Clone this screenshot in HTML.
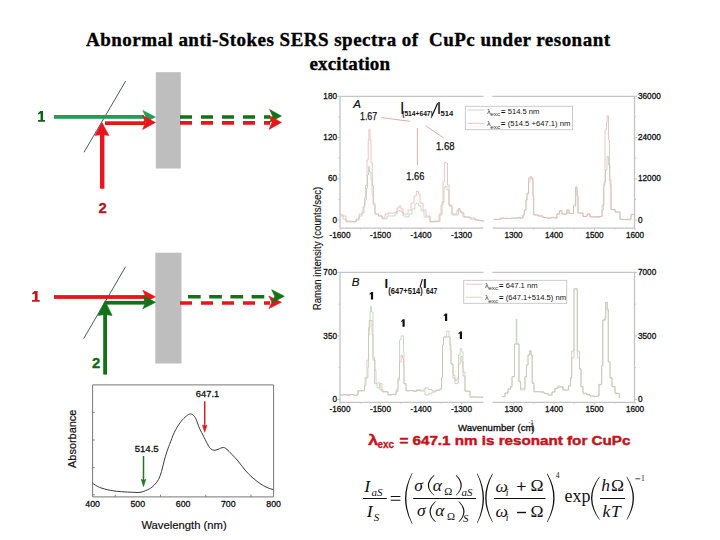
<!DOCTYPE html>
<html><head><meta charset="utf-8"><style>
html,body{margin:0;padding:0;background:#fff;}
svg{display:block;}
</style></head><body>
<svg width="720" height="540" viewBox="0 0 720 540">
<text x="86" y="45.8" font-family="Liberation Serif" font-size="19" font-weight="bold" fill="#000" text-anchor="start" textLength="524" lengthAdjust="spacing" stroke="#000" stroke-width="0.35">Abnormal anti-Stokes SERS spectra of&#160; CuPc under resonant</text>
<text x="309.5" y="69.7" font-family="Liberation Serif" font-size="19" font-weight="bold" fill="#000" text-anchor="start" textLength="80.6" lengthAdjust="spacing" stroke="#000" stroke-width="0.35">excitation</text>
<rect x="155.8" y="72.2" width="25" height="96.3" fill="#bebebe"/>
<rect x="155.3" y="252.7" width="26.2" height="110.8" fill="#bebebe"/>
<line x1="125.7" y1="81" x2="84" y2="152.3" stroke="#3a4652" stroke-width="0.9"/>
<rect x="54" y="115" width="90" height="3.8" fill="#1f9e55"/>
<path d="M155.4 116.9 L142.8 110.4 L145.8 116.9 L142.8 123.4 Z" fill="#1f9e55" stroke="#1f9e55" stroke-width="0.6" stroke-linejoin="round"/>
<rect x="105" y="121.3" width="40" height="3.7" fill="#e8151b"/>
<path d="M155.4 122.5 L142.6 115.5 L145.6 122.5 L142.6 129.5 Z" fill="#e8151b" stroke="#e8151b" stroke-width="0.6" stroke-linejoin="round"/>
<rect x="100" y="132" width="4.4" height="56.7" fill="#e8151b"/>
<path d="M101.9 122.4 L94.9 135.4 L101.9 134.6 L108.9 135.4 Z" fill="#e8151b" stroke="#e8151b" stroke-width="0.6" stroke-linejoin="round"/>
<line x1="180" y1="116.9" x2="270" y2="116.9" stroke="#137216" stroke-width="3.5" stroke-dasharray="12 9"/>
<line x1="180" y1="122.9" x2="270" y2="122.9" stroke="#e8151b" stroke-width="3.6" stroke-dasharray="12 9"/>
<path d="M281.4 116.0 L269.6 109.5 L272.6 116.0 L269.6 122.5 Z" fill="#137216" stroke="#137216" stroke-width="0.6" stroke-linejoin="round"/>
<path d="M281.4 122.4 L269.0 115.4 L272.0 122.4 L269.0 129.4 Z" fill="#e8151b" stroke="#e8151b" stroke-width="0.6" stroke-linejoin="round"/>
<path d="M40.30 111.00 L43.10 111.00 L43.10 120.05 L45.00 120.05 L45.00 121.85 L38.00 121.85 L38.00 120.05 L40.55 120.05 L40.55 113.50 L38.65 114.55 L37.90 113.25 Z" fill="#135f20"/>
<text x="102.5" y="212.6" font-family="Liberation Sans" font-size="14.8" font-weight="bold" fill="#b51a26" text-anchor="middle" stroke="#b51a26" stroke-width="0.35">2</text>
<line x1="125.6" y1="266.7" x2="83.7" y2="338.6" stroke="#3a4652" stroke-width="0.9"/>
<rect x="54" y="295.1" width="92" height="3.8" fill="#e8151b"/>
<path d="M155.4 296.8 L142.8 290.2 L145.8 296.8 L142.8 303.40000000000003 Z" fill="#e8151b" stroke="#e8151b" stroke-width="0.6" stroke-linejoin="round"/>
<rect x="105.6" y="300.9" width="40" height="3.7" fill="#137216"/>
<path d="M155.6 302.3 L142.8 295.8 L145.8 302.3 L142.8 308.8 Z" fill="#137216" stroke="#137216" stroke-width="0.6" stroke-linejoin="round"/>
<rect x="103.2" y="312" width="3.8" height="62.6" fill="#137216"/>
<path d="M105.0 300.9 L97.9 315.4 L105.0 314.59999999999997 L112.1 315.4 Z" fill="#137216" stroke="#137216" stroke-width="0.6" stroke-linejoin="round"/>
<line x1="188" y1="296.7" x2="270" y2="296.7" stroke="#137216" stroke-width="3.6" stroke-dasharray="12.7 8.5"/>
<line x1="180" y1="303" x2="270" y2="303" stroke="#e8151b" stroke-width="3.6" stroke-dasharray="12 9"/>
<path d="M281.4 302.3 L268.9 296.0 L271.9 302.3 L268.9 308.6 Z" fill="#e8151b" stroke="#e8151b" stroke-width="0.6" stroke-linejoin="round"/>
<path d="M284.4 296.3 L271.7 289.7 L274.7 296.3 L271.7 302.90000000000003 Z" fill="#137216" stroke="#137216" stroke-width="0.6" stroke-linejoin="round"/>
<path d="M34.54 291.00 L37.62 291.00 L37.62 300.05 L39.71 300.05 L39.71 301.85 L32.01 301.85 L32.01 300.05 L34.81 300.05 L34.81 293.50 L32.73 294.55 L31.90 293.25 Z" fill="#c8161e"/>
<text x="96.0" y="367.8" font-family="Liberation Sans" font-size="14.8" font-weight="bold" fill="#0f6a16" text-anchor="middle" stroke="#0f6a16" stroke-width="0.35">2</text>
<path d="M340 228.2 V96.3 H483.5 M492.3 96.3 H634.5 V228.2 H492.5 M483.5 228.2 H340" fill="none" stroke="#c4c4c4" stroke-width="1.3"/>
<path d="M337.5 96.3 H340 M634.5 96.3 H637 M337.5 137.5 H340 M634.5 137.5 H637 M337.5 178.8 H340 M634.5 178.8 H637 M337.5 220.0 H340 M634.5 220.0 H637 M338.5 116.9 H340 M634.5 116.9 H636 M338.5 158.1 H340 M634.5 158.1 H636 M338.5 199.4 H340 M634.5 199.4 H636 M340.0 228.2 V230.2 M360.2 228.2 V229.5 M380.5 228.2 V230.2 M400.8 228.2 V229.5 M421.0 228.2 V230.2 M441.2 228.2 V229.5 M461.5 228.2 V230.2 M513.5 228.2 V230.2 M533.8 228.2 V229.5 M554.0 228.2 V230.2 M574.2 228.2 V229.5 M594.5 228.2 V230.2 M614.8 228.2 V229.5 M635.0 228.2 V230.2" stroke="#c4c4c4" stroke-width="1" fill="none"/>
<text x="337" y="99.0" font-family="Liberation Sans" font-size="8.2" font-weight="normal" fill="#111" text-anchor="end" stroke="#111" stroke-width="0.3">180</text>
<text x="337" y="140.23" font-family="Liberation Sans" font-size="8.2" font-weight="normal" fill="#111" text-anchor="end" stroke="#111" stroke-width="0.3">120</text>
<text x="337" y="181.45999999999998" font-family="Liberation Sans" font-size="8.2" font-weight="normal" fill="#111" text-anchor="end" stroke="#111" stroke-width="0.3">60</text>
<text x="337" y="222.69" font-family="Liberation Sans" font-size="8.2" font-weight="normal" fill="#111" text-anchor="end" stroke="#111" stroke-width="0.3">0</text>
<text x="638" y="99.0" font-family="Liberation Sans" font-size="8.2" font-weight="normal" fill="#111" text-anchor="start" stroke="#111" stroke-width="0.3">36000</text>
<text x="638" y="140.23" font-family="Liberation Sans" font-size="8.2" font-weight="normal" fill="#111" text-anchor="start" stroke="#111" stroke-width="0.3">24000</text>
<text x="638" y="181.45999999999998" font-family="Liberation Sans" font-size="8.2" font-weight="normal" fill="#111" text-anchor="start" stroke="#111" stroke-width="0.3">12000</text>
<text x="638" y="222.69" font-family="Liberation Sans" font-size="8.2" font-weight="normal" fill="#111" text-anchor="start" stroke="#111" stroke-width="0.3">0</text>
<text x="340.0" y="237.6" font-family="Liberation Sans" font-size="8.2" font-weight="normal" fill="#111" text-anchor="middle" stroke="#111" stroke-width="0.3">-1600</text>
<text x="380.5" y="237.6" font-family="Liberation Sans" font-size="8.2" font-weight="normal" fill="#111" text-anchor="middle" stroke="#111" stroke-width="0.3">-1500</text>
<text x="421.0" y="237.6" font-family="Liberation Sans" font-size="8.2" font-weight="normal" fill="#111" text-anchor="middle" stroke="#111" stroke-width="0.3">-1400</text>
<text x="461.5" y="237.6" font-family="Liberation Sans" font-size="8.2" font-weight="normal" fill="#111" text-anchor="middle" stroke="#111" stroke-width="0.3">-1300</text>
<text x="513.5" y="237.6" font-family="Liberation Sans" font-size="8.2" font-weight="normal" fill="#111" text-anchor="middle" stroke="#111" stroke-width="0.3">1300</text>
<text x="554.0" y="237.6" font-family="Liberation Sans" font-size="8.2" font-weight="normal" fill="#111" text-anchor="middle" stroke="#111" stroke-width="0.3">1400</text>
<text x="594.5" y="237.6" font-family="Liberation Sans" font-size="8.2" font-weight="normal" fill="#111" text-anchor="middle" stroke="#111" stroke-width="0.3">1500</text>
<text x="635.0" y="237.6" font-family="Liberation Sans" font-size="8.2" font-weight="normal" fill="#111" text-anchor="middle" stroke="#111" stroke-width="0.3">1600</text>
<path d="M340.0 216.0 H343.0 V219.0 H346.0 V222.0 H352.0 V222.0 H356.0 V220.0 H359.0 V216.0 H362.0 V213.0 H364.0 V206.0 H365.0 V200.0 H366.5 V188.0 H367.5 V175.0 H368.5 V166.3 H369.5 V172.0 H371.0 V180.0 H372.0 V195.0 H373.0 V205.0 H375.0 V214.0 H378.5 V216.2 H382.0 V219.0 H387.0 V216.0 H392.0 V216.0 H395.0 V214.0 H397.0 V211.0 H399.0 V210.7 H401.0 V212.0 H403.0 V216.0 H406.0 V217.0 H409.0 V214.0 H412.0 V209.0 H415.0 V204.0 H416.3 V203.3 H418.5 V206.0 H421.0 V211.0 H424.0 V217.0 H430.0 V222.0 H433.5 V221.8 H437.0 V221.5 H440.0 V215.0 H442.0 V202.0 H444.0 V188.0 H445.2 V186.3 H447.0 V190.0 H449.0 V206.0 H452.0 V215.0 H455.0 V215.0 H458.5 V210.0 H461.0 V213.0 H464.0 V217.0 H470.0 V219.0 H475.0 V220.0 H479.0 V220.8 H483.0 V222.0" fill="none" stroke="#b0d2b0" stroke-width="0.75"/>
<path d="M340.0 214.7 H343.0 V216.0 H346.0 V221.0 H352.0 V221.5 H356.0 V219.0 H359.0 V214.0 H362.0 V211.0 H363.0 V207.0 H364.5 V198.0 H365.6 V185.6 H367.0 V160.0 H368.2 V140.0 H368.9 V129.7 H370.0 V140.0 H371.0 V163.0 H372.3 V185.6 H373.5 V203.0 H375.0 V214.0 H378.5 V215.7 H382.0 V218.0 H385.0 V214.0 H388.5 V213.0 H392.0 V213.0 H395.0 V212.0 H397.0 V208.0 H399.0 V206.0 H401.0 V209.0 H403.0 V214.0 H406.0 V214.0 H408.0 V210.0 H411.0 V203.0 H414.0 V196.0 H416.3 V191.5 H418.5 V194.0 H420.0 V203.0 H423.0 V210.0 H426.0 V216.0 H430.0 V221.5 H433.5 V221.1 H437.0 V221.0 H439.0 V214.0 H441.0 V205.0 H443.0 V182.0 H444.3 V162.6 H446.2 V163.0 H447.5 V185.0 H449.0 V205.0 H452.0 V214.0 H455.0 V214.0 H457.0 V210.0 H458.5 V208.5 H460.0 V212.0 H463.0 V217.0 H466.5 V217.1 H470.0 V218.0 H475.0 V220.0 H479.0 V220.5 H483.0 V222.0" fill="none" stroke="#eab0b0" stroke-width="0.75"/>
<path d="M493.7 219.3 H500.0 V219.3 H500.5 V218.1 H503.9 V218.2 H507.3 V218.4 H510.8 V218.4 H514.2 V218.6 H517.6 V218.3 H521.0 V218.0 H523.0 V215.0 H524.4 V210.0 H526.0 V200.0 H527.0 V194.0 H528.5 V182.0 H530.0 V178.0 H532.0 V180.0 H533.0 V197.0 H533.7 V215.0 H538.0 V216.0 H543.0 V217.5 H547.0 V218.2 H551.0 V217.3 H555.0 V218.0 H557.0 V214.0 H559.6 V210.7 H562.0 V214.0 H564.0 V214.0 H567.0 V210.0 H569.0 V213.5 H571.0 V213.3 H573.5 V206.0 H575.7 V188.0 H577.0 V196.0 H578.0 V213.0 H583.0 V216.5 H587.0 V214.0 H590.0 V216.9 H593.3 V216.7 H596.7 V217.2 H600.0 V216.5 H602.0 V205.0 H604.0 V182.0 H605.5 V170.0 H607.0 V156.6 H608.5 V165.0 H610.0 V185.0 H611.0 V209.6 H615.0 V212.0 H620.0 V219.3 H623.3 V219.5 H626.7 V219.8 H630.0 V219.3 H631.0 V214.5 H635.0 V214.5" fill="none" stroke="#b0d2b0" stroke-width="0.75"/>
<path d="M493.7 219.3 H500.0 V219.3 H500.5 V218.1 H503.9 V218.4 H507.3 V218.5 H510.8 V218.0 H514.2 V217.7 H517.6 V217.4 H521.0 V218.0 H523.0 V215.0 H524.4 V210.0 H526.0 V200.0 H527.0 V193.0 H528.5 V178.0 H530.0 V176.7 H532.0 V178.0 H533.0 V196.0 H533.7 V215.0 H538.0 V216.0 H543.0 V217.5 H547.0 V217.9 H551.0 V217.8 H555.0 V218.0 H557.0 V214.0 H559.6 V210.7 H562.0 V214.0 H564.0 V214.0 H567.0 V210.0 H569.0 V213.5 H571.0 V213.3 H573.5 V205.0 H575.7 V186.7 H577.0 V195.0 H578.0 V213.0 H583.0 V216.5 H587.0 V214.0 H590.0 V216.9 H593.3 V217.1 H596.7 V216.5 H600.0 V216.5 H602.0 V210.0 H603.5 V185.0 H605.0 V130.0 H606.5 V122.0 H607.2 V115.7 H608.5 V140.0 H609.5 V180.0 H611.0 V209.6 H615.0 V212.0 H620.0 V219.3 H623.3 V219.6 H626.7 V219.0 H630.0 V219.3 H631.0 V214.5 H635.0 V214.5" fill="none" stroke="#eab0b0" stroke-width="0.75"/>
<text x="353.3" y="107.8" font-family="Liberation Sans" font-size="11.5" font-weight="normal" fill="#111" text-anchor="start" font-style="italic" stroke="#111" stroke-width="0.2">A</text>
<text x="360" y="119.8" font-family="Liberation Sans" font-size="10.2" font-weight="normal" fill="#111" text-anchor="start" stroke="#111" stroke-width="0.25" textLength="17.2" lengthAdjust="spacingAndGlyphs">1.67</text>
<text x="436" y="150.3" font-family="Liberation Sans" font-size="10.2" font-weight="normal" fill="#111" text-anchor="start" stroke="#111" stroke-width="0.25" textLength="18.5" lengthAdjust="spacingAndGlyphs">1.68</text>
<text x="406.3" y="179.8" font-family="Liberation Sans" font-size="10.2" font-weight="normal" fill="#111" text-anchor="start" stroke="#111" stroke-width="0.25" textLength="18" lengthAdjust="spacingAndGlyphs">1.66</text>
<path d="M381 117.6 L410 121.3 M417.4 128 V165.7 M425.6 125.7 L444 138.3" stroke="#d49a9a" stroke-width="0.8" fill="none"/>
<text x="399.9" y="113.9" font-family="Liberation Sans" font-size="16" font-weight="normal" fill="#111" text-anchor="start" >I</text>
<text x="402.2" y="116.1" font-family="Liberation Sans" font-size="8" font-weight="bold" fill="#111" text-anchor="start" textLength="30.6" lengthAdjust="spacingAndGlyphs">(514+647)</text>
<path d="M432 116.1 L437.6 103.3" stroke="#111" stroke-width="1.2"/>
<text x="436.8" y="113.9" font-family="Liberation Sans" font-size="16" font-weight="normal" fill="#111" text-anchor="start" >I</text>
<text x="440.6" y="115.7" font-family="Liberation Sans" font-size="7.5" font-weight="bold" fill="#111" text-anchor="start" textLength="12.7" lengthAdjust="spacingAndGlyphs">514</text>
<rect x="465.3" y="106.3" width="107.2" height="23.4" fill="#fff" stroke="#c4c4c4" stroke-width="0.9"/>
<path d="M467.5 110 H484.7" stroke="#b0d2b0" stroke-width="0.75"/>
<path d="M467.5 123.3 H484.7" stroke="#eab0b0" stroke-width="0.75"/>
<text x="486.9" y="114.4" font-family="Liberation Sans" font-size="7.4" font-weight="normal" fill="#333" text-anchor="start" >λ</text>
<text x="490.29999999999995" y="115.9" font-family="Liberation Sans" font-size="6.2" font-weight="normal" fill="#333" text-anchor="start" textLength="10" lengthAdjust="spacingAndGlyphs">exc</text>
<text x="501.09999999999997" y="114.4" font-family="Liberation Sans" font-size="7.6" font-weight="bold" fill="#111" text-anchor="start" >=</text>
<text x="507.7" y="114.4" font-family="Liberation Sans" font-size="7.7" font-weight="normal" fill="#111" text-anchor="start" textLength="31.7" lengthAdjust="spacingAndGlyphs">514.5 nm</text>
<text x="486.9" y="125.5" font-family="Liberation Sans" font-size="7.4" font-weight="normal" fill="#333" text-anchor="start" >λ</text>
<text x="490.29999999999995" y="129.0" font-family="Liberation Sans" font-size="6.2" font-weight="normal" fill="#333" text-anchor="start" textLength="10" lengthAdjust="spacingAndGlyphs">exc</text>
<text x="501.09999999999997" y="125.5" font-family="Liberation Sans" font-size="7.6" font-weight="bold" fill="#111" text-anchor="start" >=</text>
<text x="507.7" y="125.5" font-family="Liberation Sans" font-size="7.7" font-weight="normal" fill="#111" text-anchor="start" textLength="62.7" lengthAdjust="spacingAndGlyphs">(514.5 +647.1) nm</text>
<path d="M340 402.4 V272.4 H483.5 M492.3 272.4 H634.5 V402.4 H492.5 M483.5 402.4 H340" fill="none" stroke="#c4c4c4" stroke-width="1.3"/>
<path d="M337.5 272.4 H340 M634.5 272.4 H637 M337.5 335.9 H340 M634.5 335.9 H637 M337.5 399.5 H340 M634.5 399.5 H637 M338.5 304.2 H340 M634.5 304.2 H636 M338.5 367.7 H340 M634.5 367.7 H636 M340.0 402.4 V404.4 M360.2 402.4 V403.7 M380.5 402.4 V404.4 M400.8 402.4 V403.7 M421.0 402.4 V404.4 M441.2 402.4 V403.7 M461.5 402.4 V404.4 M513.5 402.4 V404.4 M533.8 402.4 V403.7 M554.0 402.4 V404.4 M574.2 402.4 V403.7 M594.5 402.4 V404.4 M614.8 402.4 V403.7 M635.0 402.4 V404.4" stroke="#c4c4c4" stroke-width="1" fill="none"/>
<text x="337" y="275.09999999999997" font-family="Liberation Sans" font-size="8.2" font-weight="normal" fill="#111" text-anchor="end" stroke="#111" stroke-width="0.3">700</text>
<text x="337" y="338.65" font-family="Liberation Sans" font-size="8.2" font-weight="normal" fill="#111" text-anchor="end" stroke="#111" stroke-width="0.3">350</text>
<text x="337" y="402.2" font-family="Liberation Sans" font-size="8.2" font-weight="normal" fill="#111" text-anchor="end" stroke="#111" stroke-width="0.3">0</text>
<text x="638" y="275.09999999999997" font-family="Liberation Sans" font-size="8.2" font-weight="normal" fill="#111" text-anchor="start" stroke="#111" stroke-width="0.3">7000</text>
<text x="638" y="338.65" font-family="Liberation Sans" font-size="8.2" font-weight="normal" fill="#111" text-anchor="start" stroke="#111" stroke-width="0.3">3500</text>
<text x="638" y="402.2" font-family="Liberation Sans" font-size="8.2" font-weight="normal" fill="#111" text-anchor="start" stroke="#111" stroke-width="0.3">0</text>
<text x="340.0" y="411.8" font-family="Liberation Sans" font-size="8.2" font-weight="normal" fill="#111" text-anchor="middle" stroke="#111" stroke-width="0.3">-1600</text>
<text x="380.5" y="411.8" font-family="Liberation Sans" font-size="8.2" font-weight="normal" fill="#111" text-anchor="middle" stroke="#111" stroke-width="0.3">-1500</text>
<text x="421.0" y="411.8" font-family="Liberation Sans" font-size="8.2" font-weight="normal" fill="#111" text-anchor="middle" stroke="#111" stroke-width="0.3">-1400</text>
<text x="461.5" y="411.8" font-family="Liberation Sans" font-size="8.2" font-weight="normal" fill="#111" text-anchor="middle" stroke="#111" stroke-width="0.3">-1300</text>
<text x="513.5" y="411.8" font-family="Liberation Sans" font-size="8.2" font-weight="normal" fill="#111" text-anchor="middle" stroke="#111" stroke-width="0.3">1300</text>
<text x="554.0" y="411.8" font-family="Liberation Sans" font-size="8.2" font-weight="normal" fill="#111" text-anchor="middle" stroke="#111" stroke-width="0.3">1400</text>
<text x="594.5" y="411.8" font-family="Liberation Sans" font-size="8.2" font-weight="normal" fill="#111" text-anchor="middle" stroke="#111" stroke-width="0.3">1500</text>
<text x="635.0" y="411.8" font-family="Liberation Sans" font-size="8.2" font-weight="normal" fill="#111" text-anchor="middle" stroke="#111" stroke-width="0.3">1600</text>
<path d="M340.0 394.9 H343.4 V394.6 H346.8 V395.5 H350.2 V394.5 H353.6 V395.1 H357.0 V394.9 H358.0 V390.8 H363.5 V390.8 H364.5 V385.7 H365.0 V377.6 H367.0 V360.0 H368.5 V335.0 H369.2 V320.5 H371.0 V320.5 H372.0 V335.0 H373.0 V360.0 H375.0 V370.4 H376.0 V383.0 H380.0 V389.8 H383.0 V391.8 H388.0 V394.9 H391.5 V394.4 H395.0 V394.9 H396.0 V391.8 H398.0 V380.0 H399.5 V362.0 H401.1 V355.2 H402.5 V358.0 H403.5 V366.0 H404.0 V383.7 H406.0 V390.8 H409.5 V390.5 H413.0 V391.5 H416.5 V390.6 H420.0 V391.0 H425.0 V395.0 H428.5 V393.7 H432.0 V392.0 H436.0 V390.5 H440.0 V389.0 H441.5 V378.0 H442.5 V345.0 H443.5 V337.0 H449.0 V337.0 H450.0 V350.0 H451.0 V364.0 H453.0 V378.0 H455.0 V383.7 H457.0 V383.0 H458.5 V364.0 H460.2 V356.4 H461.8 V362.0 H463.0 V376.0 H465.0 V391.0 H470.0 V397.0 H473.2 V397.0 H476.5 V397.1 H479.8 V396.9 H483.0 V397.3" fill="none" stroke="#eab0b0" stroke-width="0.75"/>
<path d="M340.0 394.9 H343.4 V394.9 H346.8 V394.7 H350.2 V394.5 H353.6 V395.3 H357.0 V394.9 H358.0 V390.8 H363.5 V390.8 H364.5 V385.7 H366.0 V378.0 H368.0 V367.4 H368.5 V327.7 H370.0 V312.0 H370.6 V306.3 H371.5 V312.0 H373.0 V357.0 H374.5 V383.7 H377.0 V388.0 H379.8 V383.7 H382.0 V391.8 H388.0 V394.9 H391.5 V394.3 H395.0 V394.9 H396.0 V389.8 H398.0 V377.6 H399.5 V339.9 H401.1 V335.8 H403.5 V351.0 H404.0 V383.7 H406.0 V390.8 H409.5 V390.6 H413.0 V390.9 H416.5 V389.7 H420.0 V390.0 H425.0 V388.0 H428.5 V389.6 H432.0 V391.0 H436.0 V390.1 H440.0 V389.0 H441.5 V377.8 H442.5 V345.0 H443.5 V337.0 H446.6 V331.1 H449.0 V337.0 H450.0 V345.0 H451.0 V364.2 H453.0 V375.0 H455.0 V380.7 H457.0 V378.0 H458.5 V355.0 H460.2 V348.6 H461.8 V352.0 H463.0 V372.0 H465.0 V391.4 H470.0 V397.3 H473.2 V396.7 H476.5 V397.2 H479.8 V397.5 H483.0 V397.3" fill="none" stroke="#b0d2b0" stroke-width="0.75"/>
<path d="M502.2 396.7 H505.0 V393.0 H508.0 V389.0 H510.5 V386.7 H512.0 V376.7 H514.5 V344.0 H516.3 V344.0 H519.0 V344.0 H519.0 V381.7 H520.5 V390.0 H524.0 V390.0 H525.0 V376.7 H526.5 V365.0 H528.0 V355.0 H529.7 V350.8 H531.0 V355.0 H532.2 V383.3 H534.0 V391.7 H540.0 V392.0 H544.0 V393.6 H548.0 V395.0 H552.0 V392.0 H555.0 V388.3 H558.0 V387.0 H560.6 V387.0 H563.0 V390.0 H567.0 V390.0 H568.5 V386.0 H570.6 V378.0 H571.7 V357.8 H573.9 V357.8 H574.0 V288.9 H577.2 V288.9 H577.3 V357.8 H578.3 V357.8 H579.5 V368.9 H581.0 V386.7 H583.0 V393.3 H586.5 V394.6 H590.0 V396.0 H594.0 V396.1 H598.0 V396.0 H599.0 V384.4 H601.7 V365.5 H602.8 V320.0 H605.7 V302.2 H607.2 V310.0 H608.3 V362.0 H610.0 V377.8 H612.0 V386.7 H615.0 V393.3 H619.4 V397.8" fill="none" stroke="#eab0b0" stroke-width="0.75"/>
<path d="M502.2 396.7 H505.0 V393.0 H508.0 V389.0 H510.5 V386.7 H512.0 V376.7 H514.5 V344.0 H515.8 V344.0 H516.3 V319.2 H516.8 V344.0 H519.0 V344.0 H519.0 V381.7 H520.5 V388.3 H524.0 V388.3 H525.0 V376.7 H526.5 V365.0 H528.0 V355.0 H529.7 V350.8 H531.0 V355.0 H532.2 V383.3 H534.0 V391.7 H540.0 V392.0 H544.0 V393.4 H548.0 V395.0 H552.0 V392.0 H555.0 V388.3 H558.0 V386.0 H560.6 V386.7 H563.0 V390.0 H567.0 V390.0 H568.5 V386.0 H570.6 V377.8 H571.7 V351.0 H573.9 V351.0 H574.0 V288.9 H577.2 V288.9 H577.3 V351.0 H578.3 V351.0 H579.5 V368.9 H581.0 V386.7 H583.0 V393.3 H586.5 V394.7 H590.0 V396.0 H594.0 V396.5 H598.0 V396.0 H599.0 V384.4 H601.7 V365.5 H602.8 V320.0 H604.8 V318.0 H605.7 V302.2 H607.2 V308.9 H608.3 V362.0 H610.0 V377.8 H612.0 V386.7 H615.0 V393.3 H619.4 V397.8" fill="none" stroke="#b0d2b0" stroke-width="0.75"/>
<text x="351.7" y="286.1" font-family="Liberation Sans" font-size="11.5" font-weight="normal" fill="#111" text-anchor="start" font-style="italic" stroke="#111" stroke-width="0.2">B</text>
<text x="384.4" y="287.8" font-family="Liberation Sans" font-size="13" font-weight="bold" fill="#111" text-anchor="start" >I</text>
<text x="388.3" y="294.4" font-family="Liberation Sans" font-size="8.4" font-weight="bold" fill="#111" text-anchor="start" textLength="34.5" lengthAdjust="spacingAndGlyphs">(647+514)</text>
<path d="M420 287.4 L422.4 279.2" stroke="#111" stroke-width="1.1"/>
<text x="423.0" y="287.8" font-family="Liberation Sans" font-size="13" font-weight="bold" fill="#111" text-anchor="start" >I</text>
<text x="426" y="294.4" font-family="Liberation Sans" font-size="8.4" font-weight="bold" fill="#111" text-anchor="start" textLength="11.2" lengthAdjust="spacingAndGlyphs">647</text>
<path d="M373.1 299.6 V292.1 H371.20000000000005 L369.40000000000003 294.0 L369.8 294.8 L370.90000000000003 294.1 V299.6 Z" fill="#111"/>
<path d="M404.7 326.8 V319.3 H402.8 L401.0 321.2 L401.4 322.0 L402.5 321.3 V326.8 Z" fill="#111"/>
<path d="M447.2 321.1 V313.6 H445.3 L443.5 315.5 L443.9 316.3 L445.0 315.6 V321.1 Z" fill="#111"/>
<path d="M462.0 338.9 V331.4 H460.1 L458.3 333.29999999999995 L458.7 334.09999999999997 L459.8 333.4 V338.9 Z" fill="#111"/>
<rect x="463.7" y="280.3" width="103" height="23" fill="#fff" stroke="#c4c4c4" stroke-width="0.9"/>
<path d="M465.8 284.2 H482.5" stroke="#eab0b0" stroke-width="0.75"/>
<path d="M465.8 297.2 H482.5" stroke="#b0d2b0" stroke-width="0.75"/>
<text x="484.9" y="288.4" font-family="Liberation Sans" font-size="7.4" font-weight="normal" fill="#333" text-anchor="start" >λ</text>
<text x="488.29999999999995" y="289.9" font-family="Liberation Sans" font-size="6.2" font-weight="normal" fill="#333" text-anchor="start" textLength="10" lengthAdjust="spacingAndGlyphs">exc</text>
<text x="499.09999999999997" y="288.4" font-family="Liberation Sans" font-size="7.6" font-weight="bold" fill="#111" text-anchor="start" >=</text>
<text x="505.7" y="288.4" font-family="Liberation Sans" font-size="7.7" font-weight="normal" fill="#111" text-anchor="start" textLength="31.9" lengthAdjust="spacingAndGlyphs">647.1 nm</text>
<text x="484.9" y="299.5" font-family="Liberation Sans" font-size="7.4" font-weight="normal" fill="#333" text-anchor="start" >λ</text>
<text x="488.29999999999995" y="303.0" font-family="Liberation Sans" font-size="6.2" font-weight="normal" fill="#333" text-anchor="start" textLength="10" lengthAdjust="spacingAndGlyphs">exc</text>
<text x="499.09999999999997" y="299.5" font-family="Liberation Sans" font-size="7.6" font-weight="bold" fill="#111" text-anchor="start" >=</text>
<text x="505.7" y="299.5" font-family="Liberation Sans" font-size="7.7" font-weight="normal" fill="#111" text-anchor="start" textLength="60.4" lengthAdjust="spacingAndGlyphs">(647.1+514.5) nm</text>
<text x="0" y="0" font-family="Liberation Sans" font-size="10.2" font-weight="normal" fill="#111" text-anchor="middle" stroke="#111" stroke-width="0.15" textLength="123.5" lengthAdjust="spacingAndGlyphs" transform="translate(320.8 248.5) rotate(-90)">Raman intensity (counts/sec)</text>
<text x="458" y="430.8" font-family="Liberation Sans" font-size="9.9" font-weight="normal" fill="#111" text-anchor="start" stroke="#111" stroke-width="0.35" textLength="75.5" lengthAdjust="spacingAndGlyphs">Wavenumber (cm</text>
<text x="528.6" y="424.2" font-family="Liberation Sans" font-size="5.5" font-weight="normal" fill="#111" text-anchor="start" >-1</text>
<text x="531.3" y="431.5" font-family="Liberation Sans" font-size="10" font-weight="normal" fill="#111" text-anchor="start" stroke="#111" stroke-width="0.2">)</text>
<text x="368" y="444.7" font-family="Liberation Sans" font-size="15.5" font-weight="bold" fill="#c3141c" text-anchor="start" stroke="#c3141c" stroke-width="0.3" textLength="10.2" lengthAdjust="spacingAndGlyphs">λ</text>
<text x="377.6" y="448.3" font-family="Liberation Sans" font-size="10" font-weight="bold" fill="#c3141c" text-anchor="start" stroke="#c3141c" stroke-width="0.3" textLength="16.5" lengthAdjust="spacingAndGlyphs">exc</text>
<text x="399.4" y="444.7" font-family="Liberation Sans" font-size="13.4" font-weight="bold" fill="#c3141c" text-anchor="start" stroke="#c3141c" stroke-width="0.45" textLength="231" lengthAdjust="spacingAndGlyphs">= 647.1 nm is resonant for CuPc</text>
<path d="M92.6 496.9 V384.9 H273.6 V496.9 Z" fill="none" stroke="#777" stroke-width="1"/>
<path d="M92.6 412.3 H94.8 M92.6 440 H94.8 M92.6 467.7 H94.8 M92.6 494.8 H94.8 M115.2 496.9 V494.7 M160.5 496.9 V494.7 M205.8 496.9 V494.7 M251.0 496.9 V494.7" stroke="#777" stroke-width="0.9"/>
<text x="92.6" y="507.4" font-family="Liberation Sans" font-size="8.8" font-weight="normal" fill="#111" text-anchor="middle" stroke="#111" stroke-width="0.3">400</text>
<text x="137.8" y="507.4" font-family="Liberation Sans" font-size="8.8" font-weight="normal" fill="#111" text-anchor="middle" stroke="#111" stroke-width="0.3">500</text>
<text x="183.1" y="507.4" font-family="Liberation Sans" font-size="8.8" font-weight="normal" fill="#111" text-anchor="middle" stroke="#111" stroke-width="0.3">600</text>
<text x="228.3" y="507.4" font-family="Liberation Sans" font-size="8.8" font-weight="normal" fill="#111" text-anchor="middle" stroke="#111" stroke-width="0.3">700</text>
<text x="273.6" y="507.4" font-family="Liberation Sans" font-size="8.8" font-weight="normal" fill="#111" text-anchor="middle" stroke="#111" stroke-width="0.3">800</text>
<path d="M92.50 483.20 C93.65 483.88 96.38 486.10 99.40 487.30 C102.42 488.50 106.88 489.67 110.60 490.40 C114.32 491.13 118.00 491.38 121.70 491.70 C125.40 492.02 129.58 492.22 132.80 492.30 C136.02 492.38 138.25 492.77 141.00 492.20 C143.75 491.63 147.13 490.05 149.30 488.90 C151.47 487.75 152.47 486.85 154.00 485.30 C155.53 483.75 157.25 481.90 158.50 479.60 C159.75 477.30 160.57 474.58 161.50 471.50 C162.43 468.42 163.22 464.35 164.10 461.10 C164.98 457.85 165.88 454.78 166.80 452.00 C167.72 449.22 168.35 447.67 169.60 444.40 C170.85 441.13 172.60 435.95 174.30 432.40 C176.00 428.85 178.02 425.62 179.80 423.10 C181.58 420.58 183.37 418.82 185.00 417.30 C186.63 415.78 188.27 414.38 189.60 414.00 C190.93 413.62 191.93 414.17 193.00 415.00 C194.07 415.83 194.95 416.87 196.00 419.00 C197.05 421.13 197.93 424.72 199.30 427.80 C200.67 430.88 202.75 434.63 204.20 437.50 C205.65 440.37 206.95 443.15 208.00 445.00 C209.05 446.85 209.47 447.72 210.50 448.60 C211.53 449.48 212.95 450.18 214.20 450.30 C215.45 450.42 216.48 449.77 218.00 449.30 C219.52 448.83 221.80 447.47 223.30 447.50 C224.80 447.53 225.60 448.38 227.00 449.50 C228.40 450.62 229.87 452.28 231.70 454.20 C233.53 456.12 235.78 458.37 238.00 461.00 C240.22 463.63 242.67 467.30 245.00 470.00 C247.33 472.70 249.50 474.95 252.00 477.20 C254.50 479.45 257.50 481.78 260.00 483.50 C262.50 485.22 264.78 486.48 267.00 487.50 C269.22 488.52 272.25 489.25 273.30 489.60" fill="none" stroke="#3a3a3a" stroke-width="1"/>
<path d="M143.5 456 V481" stroke="#1e7a1e" stroke-width="1.5"/><path d="M141.2 479.2 L143.5 486.6 L145.8 479.2 L143.5 480.5 Z" fill="#1e7a1e" stroke="#1e7a1e" stroke-width="0.6"/>
<path d="M204.7 401.3 V427" stroke="#d42020" stroke-width="1.5"/><path d="M202.4 425 L204.7 432.2 L207 425 L204.7 426.3 Z" fill="#d42020" stroke="#d42020" stroke-width="0.6"/>
<text x="134.7" y="452.2" font-family="Liberation Sans" font-size="9.6" font-weight="normal" fill="#111" text-anchor="start" stroke="#111" stroke-width="0.3" textLength="24" lengthAdjust="spacingAndGlyphs">514.5</text>
<text x="195.8" y="397.0" font-family="Liberation Sans" font-size="9.6" font-weight="normal" fill="#111" text-anchor="start" stroke="#111" stroke-width="0.3" textLength="23.4" lengthAdjust="spacingAndGlyphs">647.1</text>
<text x="0" y="0" font-family="Liberation Sans" font-size="10.8" font-weight="normal" fill="#111" text-anchor="middle" stroke="#111" stroke-width="0.2" transform="translate(75.8 438.8) rotate(-90)" textLength="58.3" lengthAdjust="spacingAndGlyphs">Absorbance</text>
<text x="141.4" y="529.2" font-family="Liberation Sans" font-size="10.8" font-weight="normal" fill="#111" text-anchor="start" stroke="#111" stroke-width="0.2" textLength="85.3" lengthAdjust="spacingAndGlyphs">Wavelength (nm)</text>
<path d="M363 498.4 H386.8 M413.2 498.4 H476.1 M494 498.4 H545.5 M600 498.4 H625" stroke="#111" stroke-width="1.05"/>
<text x="364.2" y="491.6" font-family="Liberation Serif" font-size="17.7" font-style="italic" fill="#111" text-anchor="start" >I</text>
<text x="371.6" y="495.9" font-family="Liberation Serif" font-size="11" font-style="italic" fill="#111" text-anchor="start" >aS</text>
<text x="366.8" y="516.9" font-family="Liberation Serif" font-size="17.7" font-style="italic" fill="#111" text-anchor="start" >I</text>
<text x="373.8" y="521.4" font-family="Liberation Serif" font-size="11" font-style="italic" fill="#111" text-anchor="start" >S</text>
<path d="M390.7 496.4 H400.4 M390.7 500.2 H400.4" stroke="#111" stroke-width="1.05"/>
<path d="M412.00 473.00 Q398.00 498.50 412.00 524.00 L412.50 523.70 Q400.20 498.50 412.50 473.30 Z" fill="#111"/>
<path d="M477.40 473.40 Q490.60 498.35 477.40 523.30 L476.90 523.00 Q488.40 498.35 476.90 473.70 Z" fill="#111"/>
<text x="414.2" y="491" font-family="Liberation Serif" font-size="17.5" font-style="italic" fill="#111" text-anchor="start" >σ</text>
<path d="M434.00 475.10 Q421.60 485.35 434.00 495.60 L434.50 495.30 Q423.50 485.35 434.50 475.40 Z" fill="#111"/>
<text x="432.8" y="490.8" font-family="Liberation Serif" font-size="17.5" font-style="italic" fill="#111" text-anchor="start" >α</text>
<text x="444.3" y="494.9" font-family="Liberation Serif" font-size="10.8" font-style="normal" fill="#111" text-anchor="start" >Ω</text>
<path d="M456.25 475.10 Q467.35 485.35 456.25 495.60 L455.75 495.30 Q465.45 485.35 455.75 475.40 Z" fill="#111"/>
<text x="461.6" y="495.7" font-family="Liberation Serif" font-size="11" font-style="italic" fill="#111" text-anchor="start" >aS</text>
<text x="417.0" y="516.2" font-family="Liberation Serif" font-size="17.5" font-style="italic" fill="#111" text-anchor="start" >σ</text>
<path d="M435.30 501.30 Q423.70 511.65 435.30 522.00 L435.80 521.70 Q425.60 511.65 435.80 501.60 Z" fill="#111"/>
<text x="435.3" y="516.0" font-family="Liberation Serif" font-size="17.5" font-style="italic" fill="#111" text-anchor="start" >α</text>
<text x="446.9" y="520.1" font-family="Liberation Serif" font-size="10.8" font-style="normal" fill="#111" text-anchor="start" >Ω</text>
<path d="M459.00 501.30 Q470.00 511.65 459.00 522.00 L458.50 521.70 Q468.10 511.65 458.50 501.60 Z" fill="#111"/>
<text x="463" y="522" font-family="Liberation Serif" font-size="11" font-style="italic" fill="#111" text-anchor="start" >S</text>
<path d="M492.30 473.60 Q478.10 497.90 492.30 522.20 L492.80 521.90 Q480.30 497.90 492.80 473.90 Z" fill="#111"/>
<path d="M547.40 473.60 Q561.80 497.90 547.40 522.20 L546.90 521.90 Q559.60 497.90 546.90 473.90 Z" fill="#111"/>
<text x="495.5" y="491.8" font-family="Liberation Serif" font-size="17.5" font-style="italic" fill="#111" text-anchor="start" >ω</text>
<text x="505.8" y="495.7" font-family="Liberation Serif" font-size="10" font-style="italic" fill="#111" text-anchor="start" >i</text>
<text x="521.2" y="491.8" font-family="Liberation Serif" font-size="17" font-style="normal" fill="#111" text-anchor="middle" stroke="#111" stroke-width="0.4">+</text>
<text x="530.4" y="491.1" font-family="Liberation Serif" font-size="17.5" font-style="normal" fill="#111" text-anchor="start" >Ω</text>
<text x="495.5" y="517" font-family="Liberation Serif" font-size="17.5" font-style="italic" fill="#111" text-anchor="start" >ω</text>
<text x="505.8" y="521" font-family="Liberation Serif" font-size="10" font-style="italic" fill="#111" text-anchor="start" >i</text>
<path d="M517 512.5 H526" stroke="#111" stroke-width="1.4"/>
<text x="530.4" y="517" font-family="Liberation Serif" font-size="17.5" font-style="normal" fill="#111" text-anchor="start" >Ω</text>
<text x="555.8" y="477.6" font-family="Liberation Serif" font-size="7.5" font-style="normal" fill="#111" text-anchor="start" >4</text>
<text x="564.6" y="502.4" font-family="Liberation Serif" font-size="18" font-style="normal" fill="#111" text-anchor="start" >exp</text>
<path d="M599.30 476.70 Q582.70 498.20 599.30 519.70 L599.80 519.40 Q584.90 498.20 599.80 477.00 Z" fill="#111"/>
<path d="M627.00 476.70 Q641.00 498.20 627.00 519.70 L626.50 519.40 Q638.80 498.20 626.50 477.00 Z" fill="#111"/>
<text x="601.2" y="491.3" font-family="Liberation Serif" font-size="17.5" font-style="italic" fill="#111" text-anchor="start" >h</text>
<text x="611" y="491.3" font-family="Liberation Serif" font-size="17.5" font-style="normal" fill="#111" text-anchor="start" >Ω</text>
<text x="602.4" y="517" font-family="Liberation Serif" font-size="17.5" font-style="italic" fill="#111" text-anchor="start" >k</text>
<text x="611" y="517" font-family="Liberation Serif" font-size="17.5" font-style="italic" fill="#111" text-anchor="start" >T</text>
<path d="M635.4 478.8 H640.3" stroke="#111" stroke-width="0.8"/>
<text x="641" y="480.8" font-family="Liberation Serif" font-size="7.5" font-style="normal" fill="#111" text-anchor="start" >1</text>
</svg>
</body></html>
